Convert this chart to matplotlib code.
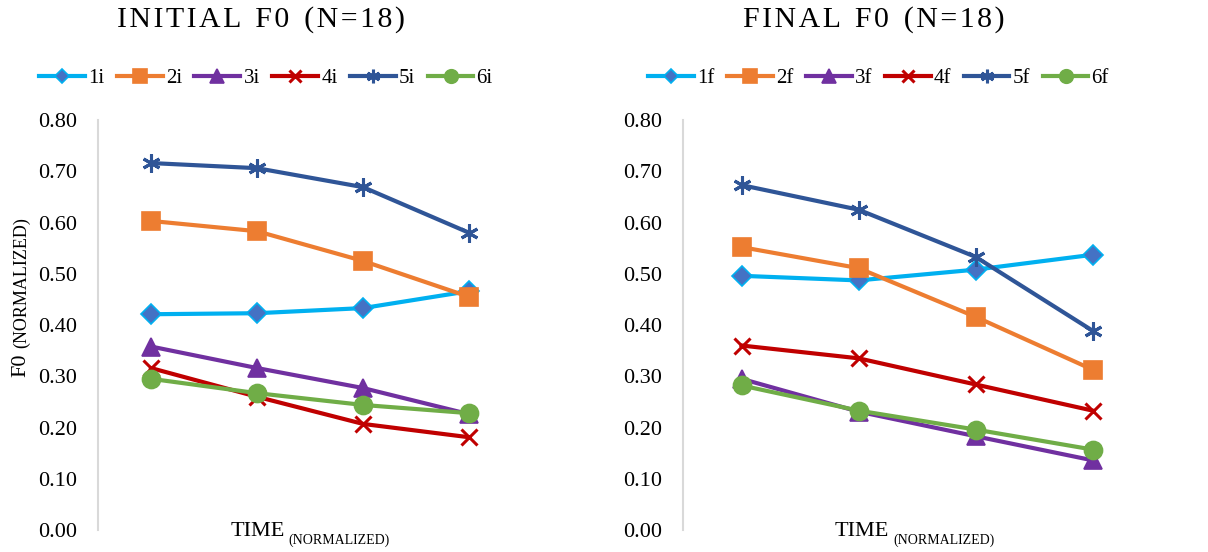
import matplotlib.pyplot as plt

plt.rcParams['font.family'] = ['Liberation Serif', 'DejaVu Serif']

time_points = [1, 2, 3, 4]

initial_labels = ['1i', '2i', '3i', '4i', '5i', '6i']
initial_1 = [0.421, 0.423, 0.433, 0.466]
initial_2 = [0.603, 0.583, 0.525, 0.455]
initial_3 = [0.358, 0.316, 0.277, 0.226]
initial_4 = [0.316, 0.260, 0.207, 0.181]
initial_5 = [0.716, 0.706, 0.669, 0.580]
initial_6 = [0.295, 0.267, 0.244, 0.228]

final_labels = ['1f', '2f', '3f', '4f', '5f', '6f']
final_1 = [0.496, 0.487, 0.508, 0.537]
final_2 = [0.552, 0.511, 0.416, 0.313]
final_3 = [0.295, 0.231, 0.183, 0.136]
final_4 = [0.360, 0.335, 0.284, 0.233]
final_5 = [0.673, 0.625, 0.533, 0.389]
final_6 = [0.282, 0.233, 0.196, 0.157]

# line colour, marker, marker size, marker face, marker edge
styles = [
    ('#00B0F0', 'D', 10, '#4472C4', '#00B0F0'),
    ('#ED7D31', 's', 13, '#ED7D31', '#ED7D31'),
    ('#7030A0', '^', 13, '#7030A0', '#7030A0'),
    ('#C00000', 'x', 11, '#C00000', '#C00000'),
    ('#2F5597', (6, 2, 0), 13, '#2F5597', '#2F5597'),
    ('#70AD47', 'o', 13, '#70AD47', '#70AD47'),
]

fig = plt.figure(figsize=(12.08, 5.52), dpi=100)
W, H = 1208, 552


def spaced(s):
    # rough letter spacing with hair spaces
    return '  '.join('\u200a'.join(w) for w in s.split(' '))


def panel(left_px, right_px, series, labels, title, title_x, legend_x0, legend_x1):
    ax = fig.add_axes([left_px / W, 1 - 530 / H, (right_px - left_px) / W, (530 - 120) / H])
    for i, (vals, lab) in enumerate(zip(series, labels)):
        c, m, ms, fc, ec = styles[i]
        ax.plot(range(len(vals)), vals, color=c, lw=3, marker=m, ms=ms,
                mfc=fc, mec=ec, mew=2.2 if m in ('x', (6, 2, 0)) else 1.2,
                label=lab, zorder=2 + i, clip_on=False)
    ax.set_xlim(-0.5, 3.5)
    ax.set_ylim(0, 0.8)
    ax.set_yticks([i / 10 for i in range(9)])
    ax.set_yticklabels(['%.2f' % (i / 10) for i in range(9)], fontsize=16)
    ax.set_xticks([])
    for s in ('top', 'right', 'bottom'):
        ax.spines[s].set_visible(False)
    ax.spines['left'].set_color('#D9D9D9')
    ax.spines['left'].set_linewidth(1.5)
    ax.tick_params(axis='y', length=0, pad=15)
    fig.text(title_x / W, 1 - 20 / H, spaced(title), fontsize=21.5, ha='center', va='center')
    ax.legend(loc='center', bbox_to_anchor=((legend_x0 + legend_x1) / 2 / W, 1 - 78 / H),
              bbox_transform=fig.transFigure, ncol=6, frameon=False, fontsize=15,
              handlelength=2.2, handletextpad=0.15, columnspacing=0.6, markerscale=0.75)
    return ax


axl = panel(98, 522, [initial_1, initial_2, initial_3, initial_4, initial_5, initial_6],
            initial_labels, 'INITIAL F0 (N=18)', 261, 40, 492)
axr = panel(683, 1151, [final_1, final_2, final_3, final_4, final_5, final_6],
            final_labels, 'FINAL F0 (N=18)', 874, 642, 1115)

# axis labels
fig.text(258 / W, 1 - 532 / H, 'TIME', fontsize=16, ha='center', va='center')
fig.text(339 / W, 1 - 540 / H, '(NORMALIZED)', fontsize=10, ha='center', va='center')
fig.text(862 / W, 1 - 532 / H, 'TIME', fontsize=16, ha='center', va='center')
fig.text(944 / W, 1 - 540 / H, '(NORMALIZED)', fontsize=10, ha='center', va='center')
fig.text(21 / W, 1 - 365 / H, 'F0', fontsize=16, ha='center', va='center', rotation=90)
fig.text(22 / W, 1 - 283 / H, '(NORMALIZED)', fontsize=13, ha='center', va='center', rotation=90)

fig.savefig('out.png', dpi=100)
